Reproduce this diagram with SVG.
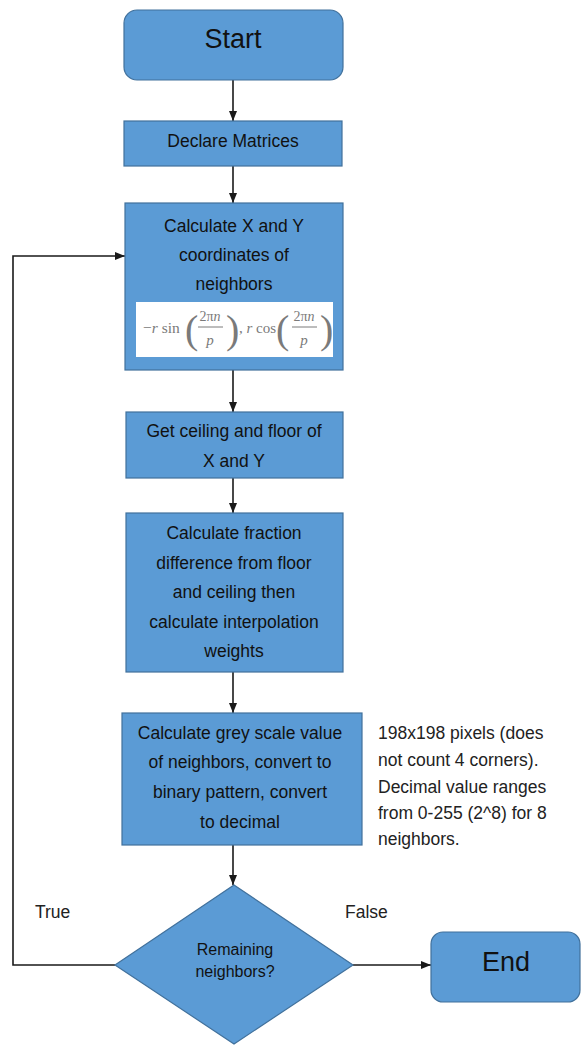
<svg xmlns="http://www.w3.org/2000/svg" width="581" height="1046" viewBox="0 0 581 1046">
<style>
.box{fill:#5B9BD5;stroke:#41719C;stroke-width:1.2}
.t{font-family:"Liberation Sans",Arial,sans-serif;font-size:17.5px;fill:#111;text-anchor:middle}
.note{font-family:"Liberation Sans",Arial,sans-serif;font-size:17.5px;fill:#222}
.big{font-family:"Liberation Sans",Arial,sans-serif;font-size:27px;fill:#111;text-anchor:middle}
.m{font-family:"Liberation Serif","Times New Roman",serif;fill:#7a7a7a}
.mi{font-family:"Liberation Serif","Times New Roman",serif;font-style:italic;fill:#7a7a7a}
.p{font-family:"Liberation Serif","Times New Roman",serif;fill:#7a7a7a;font-size:40px;font-weight:300}
.c{fill:none;stroke:#1a1a1a;stroke-width:1.6}
</style>
<defs>
<marker id="ah" markerUnits="userSpaceOnUse" markerWidth="10" markerHeight="10" viewBox="0 0 10 10" refX="10" refY="5" orient="auto">
<path d="M0,1 L10,5 L0,9 Z" fill="#1a1a1a"/>
</marker>
</defs>
<rect width="581" height="1046" fill="#fff"/>
<g id="connectors">
<line class="c" x1="233" y1="80" x2="233" y2="121" marker-end="url(#ah)"/>
<line class="c" x1="233" y1="166" x2="233" y2="203" marker-end="url(#ah)"/>
<line class="c" x1="233" y1="370" x2="233" y2="412" marker-end="url(#ah)"/>
<line class="c" x1="233" y1="478" x2="233" y2="513" marker-end="url(#ah)"/>
<line class="c" x1="233" y1="672" x2="233" y2="713" marker-end="url(#ah)"/>
<line class="c" x1="233" y1="845" x2="233" y2="885" marker-end="url(#ah)"/>
<line class="c" x1="353" y1="965" x2="431" y2="965" marker-end="url(#ah)"/>
<polyline class="c" points="115,965 13,965 13,256 125,256" marker-end="url(#ah)"/>
<text class="note" x="35" y="918">True</text>
<text class="note" x="345" y="918">False</text>
</g>
<g id="start">
<rect class="box" x="124" y="10" width="219" height="70" rx="13"/>
<text class="big" x="233" y="48">Start</text>
</g>
<g id="declare">
<rect class="box" x="124" y="121" width="218" height="45"/>
<text class="t" x="233" y="147">Declare Matrices</text>
</g>
<g id="coords">
<rect class="box" x="125" y="203" width="218" height="167"/>
<text class="t" x="234" y="232">Calculate X and Y</text>
<text class="t" x="234" y="261">coordinates of</text>
<text class="t" x="234" y="290">neighbors</text>
<rect x="136" y="302" width="197" height="55" fill="#fff"/>
<text class="m" x="143" y="333" font-size="15.5">−<tspan class="mi">r</tspan> sin</text>
<text class="p" x="185" y="343">(</text>
<text class="m" x="210" y="321" font-size="14" text-anchor="middle">2π<tspan class="mi">n</tspan></text>
<line x1="198" y1="327" x2="223" y2="327" stroke="#7a7a7a" stroke-width="1"/>
<text class="mi" x="210" y="345" font-size="15" text-anchor="middle">p</text>
<text class="p" x="226" y="343">)</text>
<text class="m" x="239" y="333" font-size="15">, <tspan class="mi">r</tspan> cos</text>
<text class="p" x="276" y="343">(</text>
<text class="m" x="304" y="321" font-size="14" text-anchor="middle">2π<tspan class="mi">n</tspan></text>
<line x1="292" y1="327" x2="317" y2="327" stroke="#7a7a7a" stroke-width="1"/>
<text class="mi" x="304" y="345" font-size="15" text-anchor="middle">p</text>
<text class="p" x="320" y="343">)</text>
</g>
<g id="ceiling">
<rect class="box" x="126" y="412" width="217" height="66"/>
<text class="t" x="234" y="437">Get ceiling and floor of</text>
<text class="t" x="234" y="467">X and Y</text>
</g>
<g id="fraction">
<rect class="box" x="126" y="513" width="217" height="159"/>
<text class="t" x="234" y="539">Calculate fraction</text>
<text class="t" x="234" y="569">difference from floor</text>
<text class="t" x="234" y="598">and ceiling then</text>
<text class="t" x="234" y="628">calculate interpolation</text>
<text class="t" x="234" y="657">weights</text>
</g>
<g id="grey">
<rect class="box" x="122" y="713" width="240" height="132"/>
<text class="t" x="240" y="739">Calculate grey scale value</text>
<text class="t" x="240" y="768">of neighbors, convert to</text>
<text class="t" x="240" y="798">binary pattern, convert</text>
<text class="t" x="240" y="828">to decimal</text>
</g>
<g id="note">
<text class="note" x="378" y="739">198x198 pixels (does</text>
<text class="note" x="378" y="766">not count 4 corners).</text>
<text class="note" x="378" y="793">Decimal value ranges</text>
<text class="note" x="378" y="819">from 0-255 (2^8) for 8</text>
<text class="note" x="378" y="845">neighbors.</text>
</g>
<g id="decision">
<polygon class="box" points="234,885 353,965 234,1044 115,965"/>
<text class="t" x="235" y="955" style="font-size:16px">Remaining</text>
<text class="t" x="235" y="977" style="font-size:16px">neighbors?</text>
</g>
<g id="end">
<rect class="box" x="431" y="932" width="149" height="70" rx="12"/>
<text class="big" x="506" y="971">End</text>
</g>
</svg>
